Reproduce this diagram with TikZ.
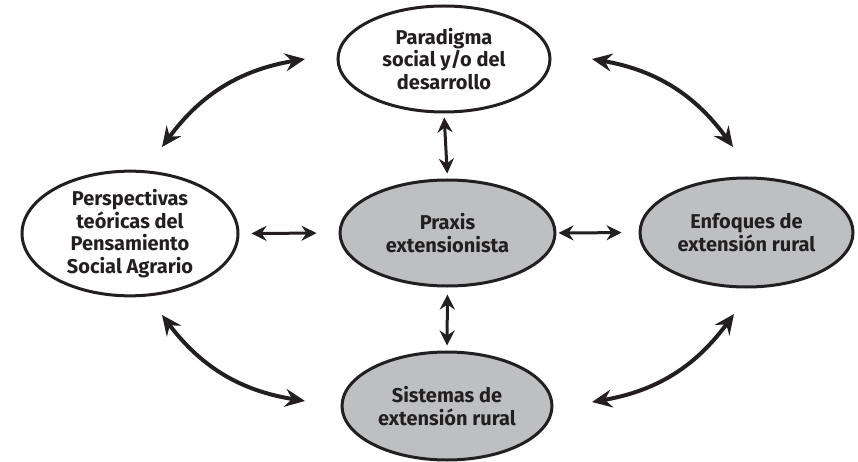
\documentclass[tikz,border=0pt]{standalone}
\usepackage{fontspec}
\setmainfont{Fira Sans}
\usetikzlibrary{shapes.geometric,arrows.meta}
\definecolor{ink}{HTML}{231F20}
\definecolor{boxgray}{HTML}{BDBFC1}
\begin{document}
\begin{tikzpicture}[x=1pt,y=-1pt,
  oval/.style={ellipse, draw=ink, line width=3pt, inner sep=0pt,
    minimum width=212pt, minimum height=106pt, align=center, text=ink,
    font=\fontsize{20}{22.5}\selectfont\bfseries},
  white oval/.style={oval, fill=white},
  gray oval/.style={oval, fill=boxgray},
  straight/.style={draw=ink, line width=3pt,
    {Stealth[length=15pt,width=15pt,inset=5pt]}-{Stealth[length=15pt,width=15pt,inset=5pt]}},
  curved/.style={draw=ink, line width=4pt,
    {Stealth[length=20pt,width=18pt,inset=7pt]}-{Stealth[length=20pt,width=18pt,inset=7pt]}}
]
\useasboundingbox (0,0) rectangle (858,462);
\node[white oval] (top) at (444,59) {Paradigma\\social y/o del\\desarrollo};
\node[white oval, minimum width=216pt] (left) at (130,233.5) {Perspectivas\\teóricas del\\Pensamiento\\Social Agrario};
\node[gray oval, minimum width=215pt] (mid) at (447.5,233) {Praxis\\extensionista};
\node[gray oval, minimum width=213pt, minimum height=109pt] (right) at (746.5,232.5) {Enfoques de\\extensión rural};
\node[gray oval, minimum width=210pt, minimum height=108pt] (bot) at (447,406) {Sistemas de\\extensión rural};

\draw[straight, shorten <=4pt, shorten >=5pt] (top.south) -- (mid.north);
\draw[straight, shorten <=7pt, shorten >=5pt] (mid.south) -- (bot.north);
\draw[straight, shorten <=12pt, shorten >=22pt] (left.east) -- (mid.west);
\draw[straight, shorten <=2pt, shorten >=17pt] (mid.east) -- (right.west);

\coordinate (tl1) at (162,147);
\coordinate (tl2) at (305,59);
\coordinate (tr1) at (592,59);
\coordinate (tr2) at (733,147);
\coordinate (bl1) at (162,315);
\coordinate (bl2) at (305,401);
\coordinate (br1) at (592,402);
\coordinate (br2) at (734,314);
\draw[curved] (tl1) to[bend left=22] (tl2);
\draw[curved] (tr1) to[bend left=22] (tr2);
\draw[curved] (bl1) to[bend right=22] (bl2);
\draw[curved] (br1) to[bend right=22] (br2);
\end{tikzpicture}
\end{document}
